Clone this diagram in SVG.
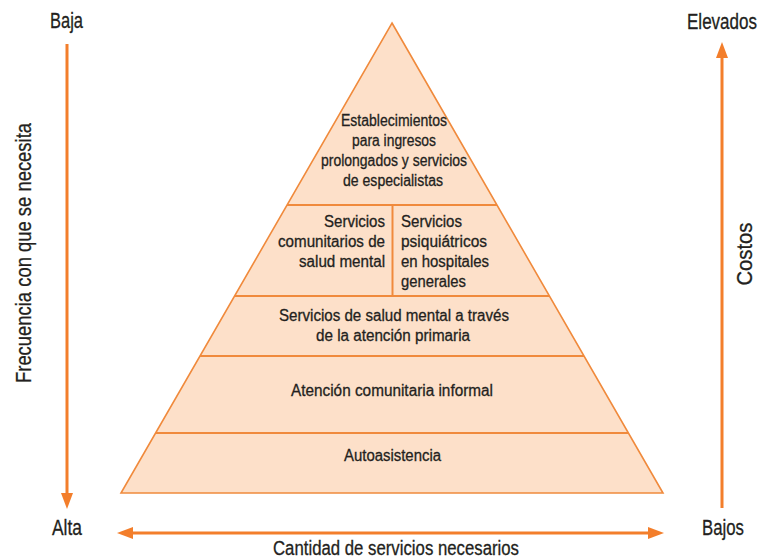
<svg xmlns="http://www.w3.org/2000/svg" width="761" height="558" viewBox="0 0 761 558">
  <defs>
    <style>
      .t { font-family: "Liberation Sans", Arial, sans-serif; fill: #231f20; stroke: #231f20; stroke-width: 0.3; }
      .lbl { font-size: 22px; }
      .in { font-size: 16px; }
      .band { fill: #fde0c9; stroke: #f08a3c; stroke-width: 1.6; }
      .div { stroke: #f08a3c; stroke-width: 2; fill: none; }
      .arr { stroke: #f37e2b; stroke-width: 3; fill: none; }
      .ah { fill: #f37e2b; }
    </style>
  </defs>
  <rect width="761" height="558" fill="#ffffff"/>

  <g id="pyramid">
    <polygon class="band" points="392,23 663,493 121,493"/>
  </g>
  <g id="dividers">
    <line class="div" x1="287" y1="205" x2="497" y2="205"/>
    <line class="div" x1="392.5" y1="205" x2="392.5" y2="296"/>
    <line class="div" x1="235" y1="296" x2="549" y2="296"/>
    <line class="div" x1="200" y1="356" x2="584" y2="356"/>
    <line class="div" x1="156" y1="433" x2="628" y2="433"/>
  </g>

  <g id="node-especialistas">
    <text class="t in" text-anchor="middle" x="394" y="126" textLength="106" lengthAdjust="spacingAndGlyphs">Establecimientos</text>
    <text class="t in" text-anchor="middle" x="394" y="146" textLength="84" lengthAdjust="spacingAndGlyphs">para ingresos</text>
    <text class="t in" text-anchor="middle" x="394" y="166" textLength="146" lengthAdjust="spacingAndGlyphs">prolongados y servicios</text>
    <text class="t in" text-anchor="middle" x="393" y="186" textLength="100" lengthAdjust="spacingAndGlyphs">de especialistas</text>
  </g>
  <g id="node-comunitarios">
    <text class="t in" text-anchor="end" x="385" y="227" textLength="61" lengthAdjust="spacingAndGlyphs">Servicios</text>
    <text class="t in" text-anchor="end" x="385" y="247" textLength="107" lengthAdjust="spacingAndGlyphs">comunitarios de</text>
    <text class="t in" text-anchor="end" x="385" y="267" textLength="86" lengthAdjust="spacingAndGlyphs">salud mental</text>
  </g>
  <g id="node-psiquiatricos">
    <text class="t in" x="401" y="227" textLength="61" lengthAdjust="spacingAndGlyphs">Servicios</text>
    <text class="t in" x="401" y="247" textLength="86" lengthAdjust="spacingAndGlyphs">psiquiátricos</text>
    <text class="t in" x="401" y="267" textLength="88" lengthAdjust="spacingAndGlyphs">en hospitales</text>
    <text class="t in" x="401" y="287" textLength="65" lengthAdjust="spacingAndGlyphs">generales</text>
  </g>
  <g id="node-primaria">
    <text class="t in" text-anchor="middle" x="394" y="321" textLength="230" lengthAdjust="spacingAndGlyphs">Servicios de salud mental a través</text>
    <text class="t in" text-anchor="middle" x="393" y="341" textLength="154" lengthAdjust="spacingAndGlyphs">de la atención primaria</text>
  </g>
  <g id="node-informal">
    <text class="t in" text-anchor="middle" x="392" y="396" textLength="202" lengthAdjust="spacingAndGlyphs">Atención comunitaria informal</text>
  </g>
  <g id="node-autoasistencia">
    <text class="t in" text-anchor="middle" x="392.5" y="461" textLength="97" lengthAdjust="spacingAndGlyphs">Autoasistencia</text>
  </g>

  <g id="connectors">
    <line class="arr" x1="67" y1="44" x2="67" y2="494"/>
    <polygon class="ah" points="61,493 73,493 67,509"/>
    <line class="arr" x1="722" y1="57" x2="722" y2="508"/>
    <polygon class="ah" points="716,58 728,58 722,42"/>
    <line class="arr" x1="132" y1="533" x2="650" y2="533"/>
    <polygon class="ah" points="133,527 133,539 117,533"/>
    <polygon class="ah" points="648,527 648,539 664,533"/>
  </g>

  <g id="labels">
    <text class="t lbl" text-anchor="middle" x="66.5" y="28" textLength="33" lengthAdjust="spacingAndGlyphs">Baja</text>
    <text class="t lbl" text-anchor="middle" x="67" y="535" textLength="30" lengthAdjust="spacingAndGlyphs">Alta</text>
    <text class="t lbl" text-anchor="end" x="757" y="29" textLength="70" lengthAdjust="spacingAndGlyphs">Elevados</text>
    <text class="t lbl" text-anchor="middle" x="723" y="535" textLength="42" lengthAdjust="spacingAndGlyphs">Bajos</text>
    <text class="t" style="font-size:20px" text-anchor="middle" x="396" y="555" textLength="246" lengthAdjust="spacingAndGlyphs">Cantidad de servicios necesarios</text>
    <text class="t lbl" text-anchor="middle" transform="translate(31,253) rotate(-90)" textLength="260" lengthAdjust="spacingAndGlyphs">Frecuencia con que se necesita</text>
    <text class="t lbl" text-anchor="middle" transform="translate(752,254) rotate(-90)" textLength="63" lengthAdjust="spacingAndGlyphs">Costos</text>
  </g>
</svg>
